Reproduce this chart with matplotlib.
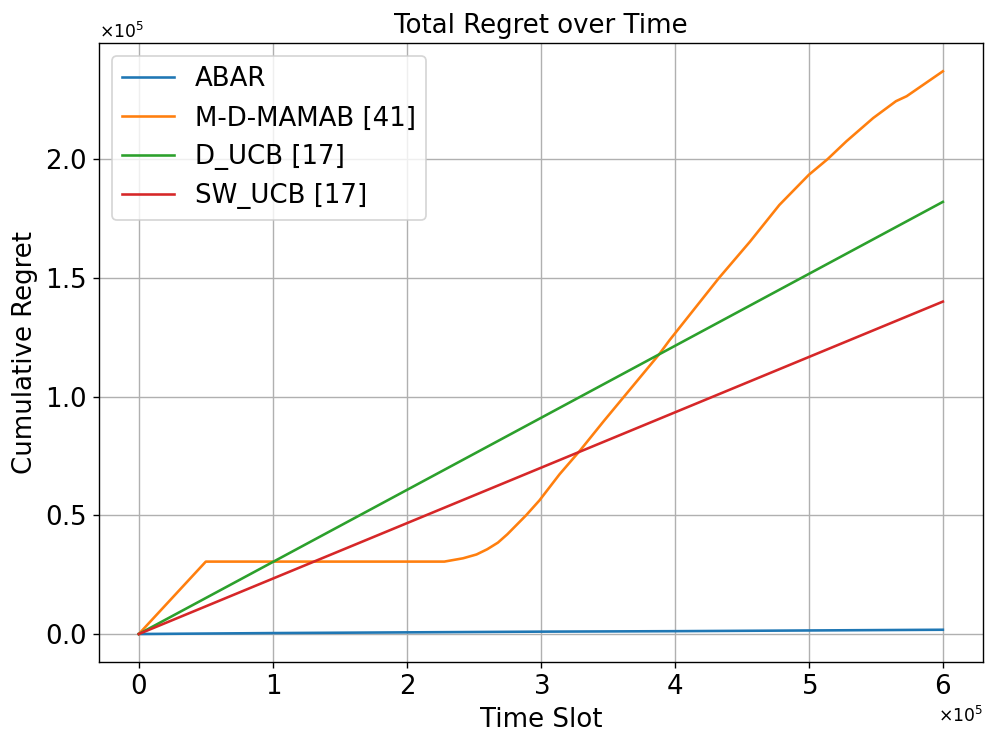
import matplotlib
matplotlib.use("Agg")
import matplotlib.pyplot as plt

# Dados
t_abar = [0, 100000, 200000, 300000, 400000, 500000, 600000]
abar = [0, 400, 700, 1000, 1200, 1500, 1800]

t_mdm = [0, 50000, 228000, 242000, 252000, 260000, 268000, 275000, 289000, 299000,
         314000, 329000, 347000, 388000, 396000, 433000, 456000, 478000, 500000,
         514000, 528000, 548000, 565000, 573000, 600000]
mdm = [0, 30500, 30500, 31900, 33500, 35700, 38500, 42000, 50000, 56300,
       67300, 77100, 89700, 117600, 123700, 150000, 165200, 180700, 193400,
       200000, 207500, 217300, 224400, 226500, 237000]

t_lin = [0, 600000]
d_ucb = [0, 182000]
sw_ucb = [0, 140000]

# Configurar o tamanho do grafico (996x744 px)
fig = plt.figure(figsize=(8, 5.976), dpi=124.5)
ax = fig.add_subplot(111)

ax.plot(t_abar, abar, label="ABAR", linewidth=1.5, color="#1f77b4")
ax.plot(t_mdm, mdm, label="M-D-MAMAB [41]", linewidth=1.5, color="#ff7f0e")
ax.plot(t_lin, d_ucb, label="D_UCB [17]", linewidth=1.5, color="#2ca02c")
ax.plot(t_lin, sw_ucb, label="SW_UCB [17]", linewidth=1.5, color="#d62728")

ax.set_title("Total Regret over Time", fontsize=15)
ax.set_xlabel("Time Slot", fontsize=15)
ax.set_ylabel("Cumulative Regret", fontsize=15)
ax.ticklabel_format(style="sci", axis="both", scilimits=(0, 0), useMathText=True)
ax.tick_params(labelsize=15)
ax.grid(True)
ax.legend(fontsize=15, loc="upper left")

plt.subplots_adjust(left=0.099, right=0.987, top=0.942, bottom=0.110)
plt.savefig("out.png", dpi=124.5)
